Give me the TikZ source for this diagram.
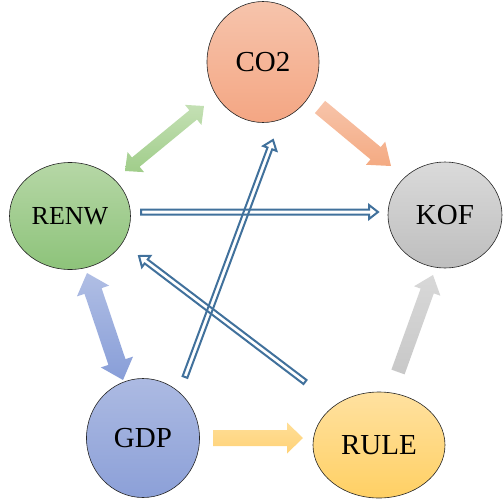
\documentclass[tikz,border=0pt]{standalone}
\usepackage{fontspec}
\setmainfont{Liberation Serif}
\usetikzlibrary{calc,shapes.geometric}

\newcommand{\onearr}[6]{% opts, from, to, shaft hw, head hw, head len
 \path[#1] let \p1=(#2), \p2=(#3), \n1={atan2(\y2-\y1,\x2-\x1)} in
  ($(\p1)+({\n1+90}:#4)$) -- ($(\p2)+({\n1+180}:#6)+({\n1+90}:#4)$) -- ($(\p2)+({\n1+180}:#6)+({\n1+90}:#5)$) -- (\p2) -- ($(\p2)+({\n1+180}:#6)+({\n1-90}:#5)$) -- ($(\p2)+({\n1+180}:#6)+({\n1-90}:#4)$) -- ($(\p1)+({\n1-90}:#4)$) -- cycle;}

\newcommand{\twoarr}[6]{% opts, from, to, shaft hw, head hw, head len
 \path[#1] let \p1=(#2), \p2=(#3), \n1={atan2(\y2-\y1,\x2-\x1)} in
  (\p1) -- ($(\p1)+({\n1}:#6)+({\n1+90}:#5)$) -- ($(\p1)+({\n1}:#6)+({\n1+90}:#4)$) -- ($(\p2)+({\n1+180}:#6)+({\n1+90}:#4)$) -- ($(\p2)+({\n1+180}:#6)+({\n1+90}:#5)$) -- (\p2) -- ($(\p2)+({\n1+180}:#6)+({\n1-90}:#5)$) -- ($(\p2)+({\n1+180}:#6)+({\n1-90}:#4)$) -- ($(\p1)+({\n1}:#6)+({\n1-90}:#4)$) -- ($(\p1)+({\n1}:#6)+({\n1-90}:#5)$) -- cycle;}

\definecolor{hollowblue}{HTML}{41719C}

\tikzset{
  ell/.style={ellipse, draw=black!85, line width=0.6pt, inner sep=0pt,
    font=\fontsize{29}{33}\selectfont},
  hollow/.style={draw=hollowblue, line width=2pt, line join=miter},
}

\begin{document}
\begin{tikzpicture}[x=1pt,y=-1pt]
\useasboundingbox (0,0) rectangle (503,504);

% nodes
\node[ell, minimum width=112pt, minimum height=121pt,
  top color={rgb,255:red,246;green,196;blue,172}, bottom color={rgb,255:red,244;green,166;blue,131}] (co2) at (263,62) {CO2};
\node[ell, minimum width=121pt, minimum height=107pt, font=\fontsize{26}{30}\selectfont,
  top color={rgb,255:red,182;green,215;blue,166}, bottom color={rgb,255:red,141;green,195;blue,122}] (renw) at (70,216) {RENW};
\node[ell, minimum width=114pt, minimum height=106pt,
  top color={rgb,255:red,218;green,218;blue,218}, bottom color={rgb,255:red,190;green,190;blue,190}] (kof) at (445,215) {KOF};
\node[ell, minimum width=113pt, minimum height=119pt,
  top color={rgb,255:red,172;green,186;blue,226}, bottom color={rgb,255:red,140;green,160;blue,216}] (gdp) at (143,438) {GDP};
\node[ell, minimum width=132pt, minimum height=106pt,
  top color={rgb,255:red,255;green,225;blue,160}, bottom color={rgb,255:red,255;green,208;blue,100}] (rule) at (379,445) {RULE};

% arrow end points
\coordinate (gA) at (125,171);
\coordinate (gB) at (204,106);
\coordinate (oA) at (320,107);
\coordinate (oB) at (391,166);
\coordinate (bA) at (87,273);
\coordinate (bB) at (123,380);
\coordinate (kA) at (398,372);
\coordinate (kB) at (433,275);
\coordinate (yA) at (213,438);
\coordinate (yB) at (303,438);
\coordinate (h1A) at (141,212);
\coordinate (h1B) at (378,212);
\coordinate (h2A) at (185,377);
\coordinate (h2B) at (273,140);
\coordinate (h3A) at (305,382);
\coordinate (h3B) at (139,256);

% filled block arrows
\twoarr{top color={rgb,255:red,196;green,224;blue,180}, bottom color={rgb,255:red,160;green,205;blue,138}}{gA}{gB}{6pt}{13pt}{14pt}
\onearr{top color={rgb,255:red,247;green,196;blue,170}, bottom color={rgb,255:red,244;green,170;blue,130}}{oA}{oB}{8pt}{15pt}{20pt}
\twoarr{top color={rgb,255:red,176;green,190;blue,228}, bottom color={rgb,255:red,136;green,158;blue,216}}{bA}{bB}{9pt}{17pt}{19pt}
\onearr{top color={rgb,255:red,216;green,216;blue,216}, bottom color={rgb,255:red,200;green,200;blue,200}}{kA}{kB}{7pt}{14pt}{17pt}
\onearr{top color={rgb,255:red,255;green,222;blue,150}, bottom color={rgb,255:red,255;green,210;blue,120}}{yA}{yB}{8pt}{15.5pt}{16pt}

% hollow arrows
\onearr{hollow}{h1A}{h1B}{2.5pt}{7pt}{9pt}
\onearr{hollow}{h2A}{h2B}{2.5pt}{7pt}{9pt}
\onearr{hollow}{h3A}{h3B}{2.5pt}{7pt}{9pt}
\end{tikzpicture}
\end{document}
